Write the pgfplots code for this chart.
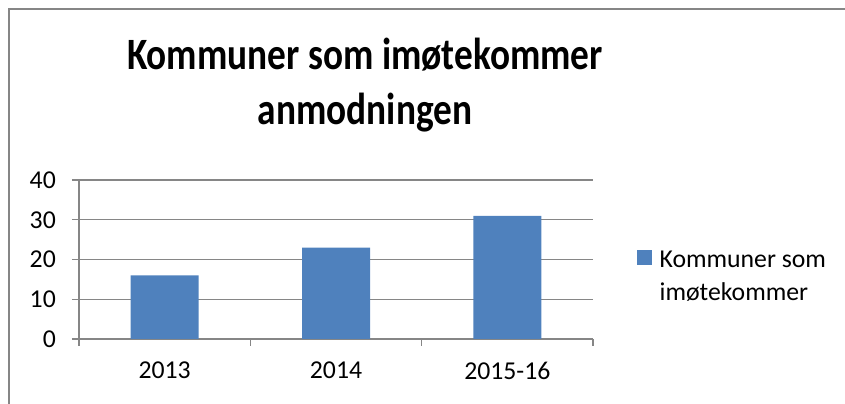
\documentclass[border=0pt]{standalone}
\usepackage{fontspec}
\setmainfont{Carlito}
\usepackage{pgfplots}
\pgfplotsset{compat=1.18}
\definecolor{barblue}{RGB}{79,129,189}
\definecolor{gridgray}{RGB}{134,134,134}
\begin{document}
\begin{tikzpicture}[x=0.75pt,y=0.75pt]
\clip (0,0) rectangle (845,403);
\draw[gridgray, line width=1.5pt] (9,-20) -- (9,394) -- (870,394);
\node[font=\fontsize{28}{34}\selectfont\bfseries, anchor=base, yscale=1.2] at (365,333) {Kommuner som imøtekommer};
\node[font=\fontsize{28}{34}\selectfont\bfseries, anchor=base, yscale=1.2] at (365,278) {anmodningen};
\begin{axis}[
  at={(59.25pt,48pt)}, anchor=south west,
  width=385.5pt, height=119.25pt, scale only axis,
  xmin=-0.5, xmax=2.5, ymin=0, ymax=40,
  axis x line*=bottom, axis y line*=left,
  axis line style={-, gridgray, line width=0.8pt},
  ymajorgrids, grid style={gridgray, line width=0.8pt},
  ytick={0,10,20,30,40},
  xtick={-0.5,0.5,1.5,2.5}, xticklabels={,,,,},
  extra x ticks={0,1,2}, extra x tick labels={2013,2014,2015-16},
  extra x tick style={major tick length=0pt, xticklabel style={yshift=-13.8pt}},
  tick align=outside, major tick length=5.25pt,
  tick style={gridgray, line width=0.8pt},
  ticklabel style={font=\fontsize{19.3}{23}\selectfont, text=black},
  yticklabel style={xshift=-8.6pt},
  /pgf/number format/assume math mode=true,
  legend style={at={(1.0772,0.393)}, anchor=west, draw=none, fill=none,
    font=\fontsize{19.3}{24.75}\selectfont, nodes={align=left}},
  legend image code/.code={\fill[barblue] (-5.25pt,8.65pt) rectangle (6pt,19.85pt); \path (9.75pt,14pt);},
]
\addplot[ybar, fill=barblue, draw=none, bar width=51pt] coordinates {(0,16) (1,23) (2,31)};
\addlegendentry{Kommuner som\\imøtekommer}
\end{axis}
\end{tikzpicture}
\end{document}
